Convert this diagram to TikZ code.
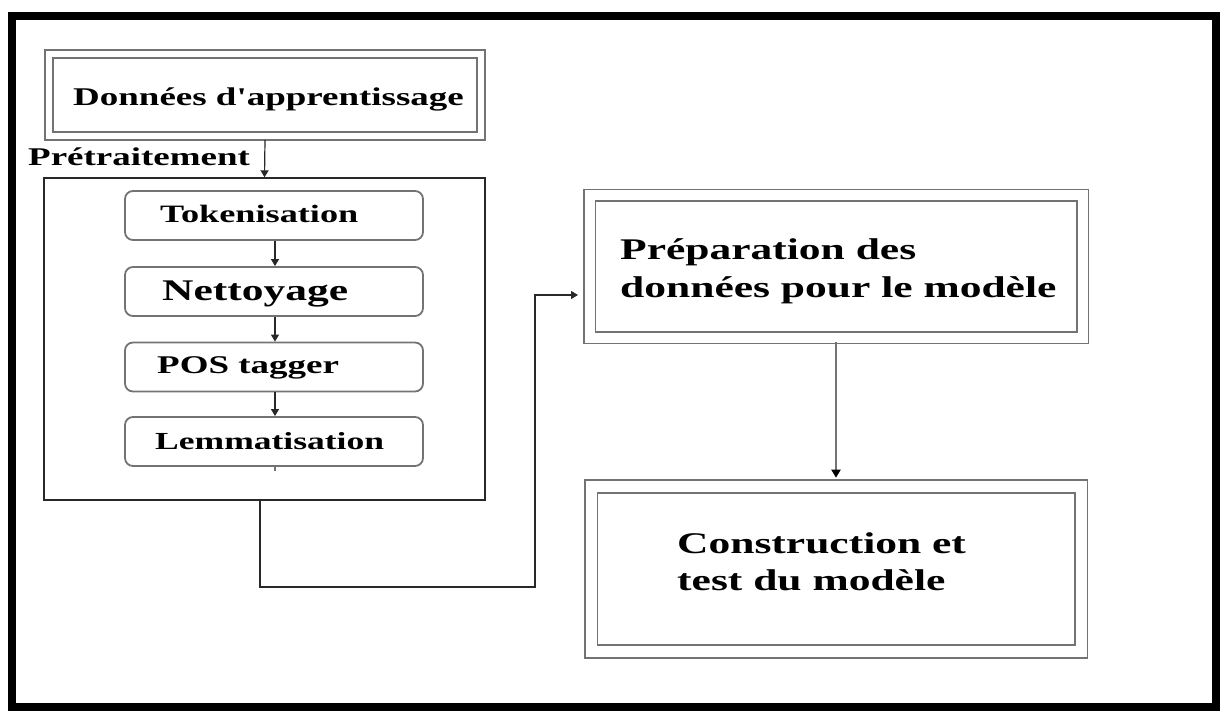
\documentclass[tikz,border=0pt]{standalone}
\usepackage{fontspec}
\setmainfont{Liberation Serif}
\usepackage{graphicx}
\usetikzlibrary{arrows.meta}
\definecolor{boxgray}{RGB}{115,115,115}
\definecolor{linegray}{RGB}{40,40,40}
\newcommand\wide[1]{\scalebox{1.45}[1]{#1}}
\newcommand\fs[1]{\fontsize{#1}{#1}\selectfont}
\begin{document}
\begin{tikzpicture}[x=1pt,y=-1pt,
  dbox/.style={draw=boxgray, line width=1.6pt, double=white, inner sep=0pt},
  prebox/.style={draw=linegray, line width=1.4pt, inner sep=0pt},
  rbox/.style={draw=boxgray, line width=1.8pt, rounded corners=8pt, inner sep=0pt,
    minimum width=298pt, minimum height=49pt},
  txt/.style={anchor=base west, inner sep=0pt, font=\bfseries},
  arr/.style={draw=linegray, line width=1.2pt, -{Triangle[width=8pt,length=7pt]}},
  garr/.style={draw=boxgray, line width=2pt, -{Triangle[width=9pt,length=8pt,color=black]}}
]
\useasboundingbox (0,0) rectangle (1220,711);
% outer frame
\draw[line width=8pt] (12,16) rectangle (1216,707);

% boxes
\node[dbox, double distance=6pt, minimum width=432pt, minimum height=82pt] (don) at (265,95) {};
\node[prebox, minimum width=441pt, minimum height=322pt] (pre) at (264.5,339) {};
\node[rbox] (tok) at (274,215.5) {};
\node[rbox] (net) at (274,291.5) {};
\node[rbox] (pos) at (274,367) {};
\node[rbox] (lem) at (274,441.5) {};
\node[dbox, double distance=10pt, minimum width=493pt, minimum height=142pt] (prep) at (836,266.5) {};
\node[dbox, double distance=11pt, minimum width=490pt, minimum height=165pt] (cons) at (836,569) {};

% texts
\node[txt] (tdon) at (73,106) {\fs{25.5}\wide{Données d\textquotesingle apprentissage}};
\node[txt] (tpre) at (28,166) {\fs{25.5}\wide{Prétraitement}};
\node[txt] (ttok) at (160,223) {\fs{25}\wide{Tokenisation}};
\node[txt] (tnet) at (162,300) {\fs{30}\wide{Nettoyage}};
\node[txt] (tpos) at (157,373) {\fs{25.5}\wide{POS tagger}};
\node[txt] (tlem) at (155,449) {\fs{24.5}\wide{Lemmatisation}};
\node[txt] (tprep) at (620,260) {\fs{30}\wide{\vtop{\baselineskip=38pt\hbox{Préparation des}\hbox{données pour le modèle}}}};
\node[txt] (tcons) at (677,553) {\fs{30}\wide{\vtop{\baselineskip=37pt\hbox{Construction et}\hbox{test du modèle}}}};

% connectors
\draw[arr] ([yshift=-3pt]don.south) -- (pre.north);
\draw[arr] ([xshift=1pt]tok.south) -- ([xshift=1pt]net.north);
\draw[arr] ([xshift=1pt]net.south) -- ([xshift=1pt]pos.north);
\draw[arr] ([xshift=1pt]pos.south) -- ([xshift=1pt]lem.north);
\draw[draw=boxgray, line width=1.6pt] ([xshift=1pt]lem.south) -- ++(0,4);

\coordinate (c1) at (260,587);
\coordinate (c2) at (535,587);
\coordinate (c3) at (535,295);
\coordinate (c4) at (578,295);
\draw[arr] (pre.south -| c1) -- (c1) -- (c2) -- (c3) -- (c4);
\draw[garr] ([yshift=-4pt]prep.south) -- ([yshift=8pt]cons.north);
\end{tikzpicture}
\end{document}
